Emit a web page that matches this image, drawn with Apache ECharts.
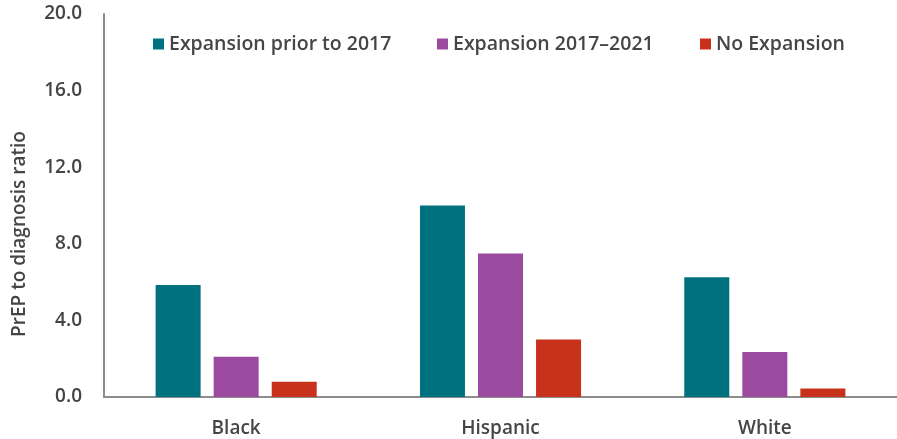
<!DOCTYPE html>
<html>
<head>
<meta charset="utf-8">
<script src="https://cdn.jsdelivr.net/npm/echarts@6/dist/echarts.min.js"></script>
<style>html,body{margin:0;padding:0;background:#fff}#c{width:897px;height:439px}</style>
</head>
<body>
<div id="c"></div>
<script>
const categories = ['Black', 'Hispanic', 'White'];
const seriesNames = ['Expansion prior to 2017', 'Expansion 2017\u20132021', 'No Expansion'];
const expansionPrior2017 = [5.85, 10.0, 6.25];
const expansion2017to2021 = [2.1, 7.5, 2.35];
const noExpansion = [0.8, 3.0, 0.45];
const yTicks = [0, 4, 20];
const colors = ['#00717f', '#9b4aa0', '#c8311c'];

const font = '"Open Sans", "Liberation Sans", sans-serif';
const chart = echarts.init(document.getElementById('c'));
const legendLefts = [148, 432, 695];
chart.setOption({
  animation: false,
  textStyle: { fontFamily: font },
  grid: { left: 104, right: 0, top: 14, bottom: 42, containLabel: false },
  legend: seriesNames.map((n, i) => ({
    data: [n], left: legendLefts[i], top: 29, itemWidth: 11, itemHeight: 11, itemGap: 6,
    icon: 'rect',
    textStyle: { fontSize: 19.5, fontWeight: 600, color: '#454545', fontFamily: font }
  })),
  xAxis: {
    type: 'category', data: categories,
    axisLine: { lineStyle: { color: '#8c8c8c', width: 2 } },
    axisTick: { show: false },
    axisLabel: { fontSize: 19, fontWeight: 600, color: '#454545', margin: 22 }
  },
  yAxis: {
    type: 'value', min: yTicks[0], max: yTicks[2], interval: yTicks[1],
    axisLine: { show: true, lineStyle: { color: '#8c8c8c', width: 2 } },
    axisTick: { show: false },
    splitLine: { show: false },
    axisLabel: { fontSize: 19, fontWeight: 600, color: '#454545', margin: 22,
      formatter: v => v.toFixed(1) }
  },
  graphic: [{
    type: 'text', rotation: Math.PI / 2,
    x: 20, y: 234,
    style: { text: 'PrEP to diagnosis ratio', fontSize: 19, fontWeight: 600, fill: '#454545',
      fontFamily: font, textAlign: 'center', textVerticalAlign: 'middle' }
  }],
  series: [
    { name: seriesNames[0], type: 'bar', data: expansionPrior2017, itemStyle: { color: colors[0] }, barWidth: 45, barGap: '29%', barCategoryGap: '39%' },
    { name: seriesNames[1], type: 'bar', data: expansion2017to2021, itemStyle: { color: colors[1] }, barWidth: 45, barGap: '29%' },
    { name: seriesNames[2], type: 'bar', data: noExpansion, itemStyle: { color: colors[2] }, barWidth: 45, barGap: '29%' }
  ]
});
</script>
</body>
</html>
